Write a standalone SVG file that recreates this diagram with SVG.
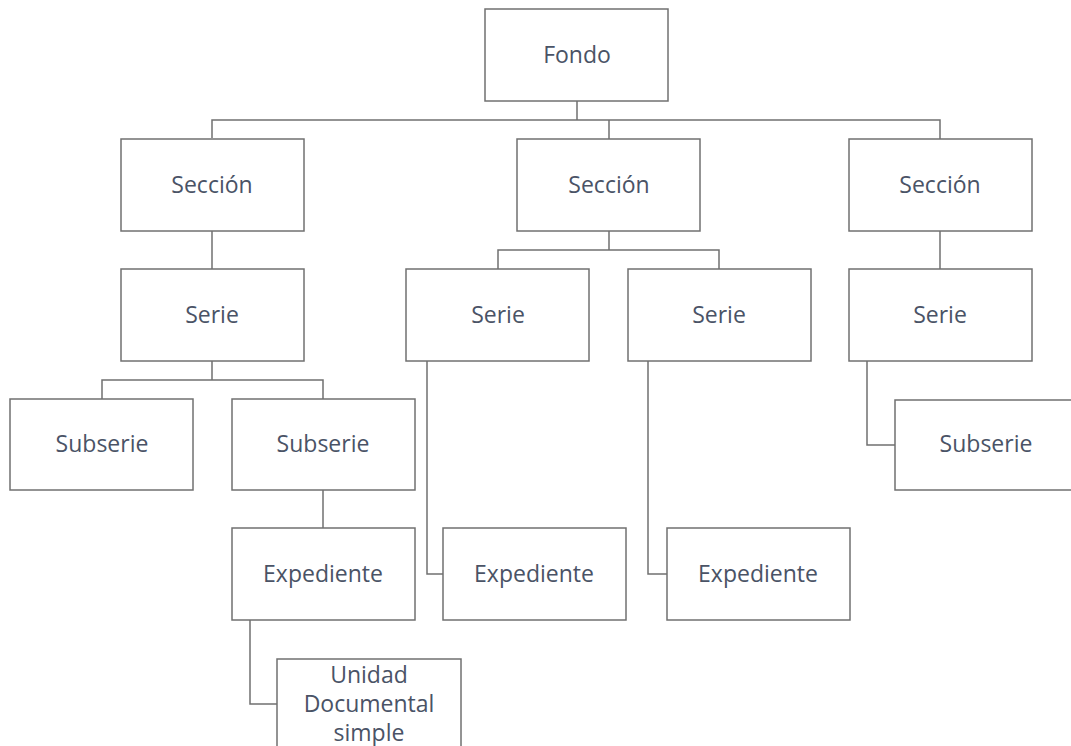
<svg xmlns="http://www.w3.org/2000/svg" width="1071" height="746" viewBox="0 0 1071 746">
  <style>
    .box { fill: #ffffff; stroke: #707070; stroke-width: 1.5; }
    .lbl { font-family: "Open Sans", "Noto Sans", "Liberation Sans", sans-serif; font-size: 23px; fill: #4a5366; text-anchor: middle; }
    .link { fill: none; stroke: #707070; stroke-width: 1.5; }
  </style>
  <rect width="1071" height="746" fill="#ffffff"/>

  <!-- connectors -->
  <g id="connectors" class="link">
    <path d="M577 101 V120 M212 138 V120 H940 V139 M609 120 V139"/>
    <path d="M212 231 V269"/>
    <path d="M609 231 V250 M498 269 V250 H719 V269"/>
    <path d="M940 231 V269"/>
    <path d="M212 361 V380 M102 399 V380 H323 V399"/>
    <path d="M323 490 V528"/>
    <path d="M250 620 V704 H277"/>
    <path d="M427 361 V574 H443"/>
    <path d="M648 361 V574 H667"/>
    <path d="M867 361 V445 H895"/>
  </g>

  <g id="fondo"><rect class="box" x="485" y="9" width="183" height="92"/><text class="lbl" x="577" y="63">Fondo</text></g>

  <g id="seccion-1"><rect class="box" x="121" y="139" width="183" height="92"/><text class="lbl" x="212" y="193">Sección</text></g>
  <g id="seccion-2"><rect class="box" x="517" y="139" width="183" height="92"/><text class="lbl" x="609" y="193">Sección</text></g>
  <g id="seccion-3"><rect class="box" x="849" y="139" width="183" height="92"/><text class="lbl" x="940" y="193">Sección</text></g>

  <g id="serie-1"><rect class="box" x="121" y="269" width="183" height="92"/><text class="lbl" x="212" y="323">Serie</text></g>
  <g id="serie-2"><rect class="box" x="406" y="269" width="183" height="92"/><text class="lbl" x="498" y="323">Serie</text></g>
  <g id="serie-3"><rect class="box" x="628" y="269" width="183" height="92"/><text class="lbl" x="719" y="323">Serie</text></g>
  <g id="serie-4"><rect class="box" x="849" y="269" width="183" height="92"/><text class="lbl" x="940" y="323">Serie</text></g>

  <g id="subserie-1"><rect class="box" x="10" y="399" width="183" height="91"/><text class="lbl" x="102" y="452">Subserie</text></g>
  <g id="subserie-2"><rect class="box" x="232" y="399" width="183" height="91"/><text class="lbl" x="323" y="452">Subserie</text></g>
  <g id="subserie-3"><rect class="box" x="895" y="400" width="183" height="90"/><text class="lbl" x="986" y="452">Subserie</text></g>

  <g id="expediente-1"><rect class="box" x="232" y="528" width="183" height="92"/><text class="lbl" x="323" y="582">Expediente</text></g>
  <g id="expediente-2"><rect class="box" x="443" y="528" width="183" height="92"/><text class="lbl" x="534" y="582">Expediente</text></g>
  <g id="expediente-3"><rect class="box" x="667" y="528" width="183" height="92"/><text class="lbl" x="758" y="582">Expediente</text></g>

  <g id="unidad-documental"><rect class="box" x="277" y="659" width="184" height="100"/>
    <text class="lbl" x="369" y="683">Unidad</text>
    <text class="lbl" x="369" y="712">Documental</text>
    <text class="lbl" x="369" y="741">simple</text>
  </g>
</svg>
